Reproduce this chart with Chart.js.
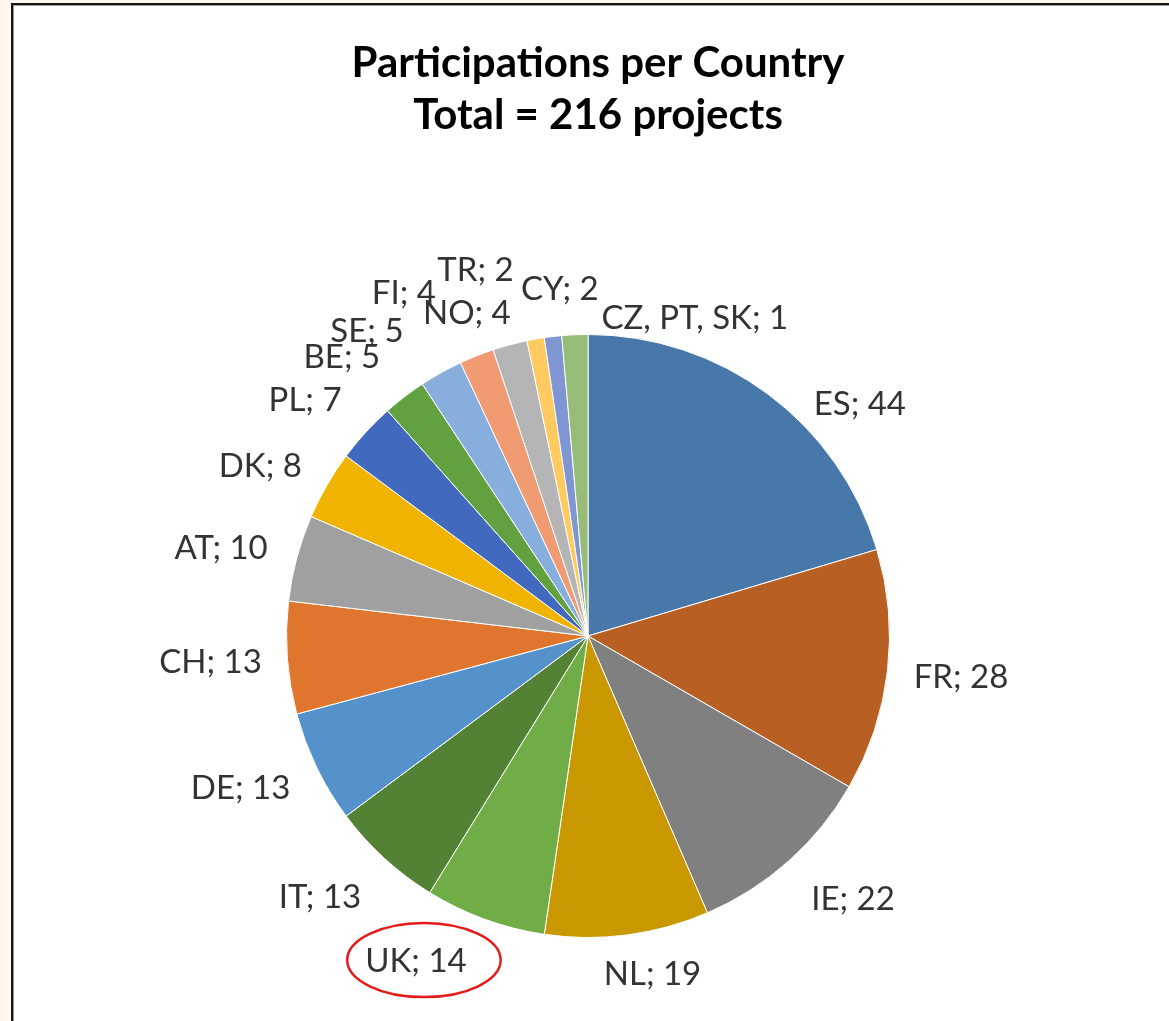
<!DOCTYPE html>
<html>
<head>
<meta charset="utf-8">
<script src="https://cdn.jsdelivr.net/npm/chart.js@4.4.1/dist/chart.umd.min.js"></script>
<style>
  html, body { margin: 0; padding: 0; }
  body { width: 1169px; height: 1021px; background: #fff7f0; position: relative; overflow: hidden; }
  #frame {
    position: absolute; left: 11px; top: 3px; right: 0; bottom: 0;
    background: #fff;
    border-left: 2px solid #151515; border-top: 2px solid #151515;
    box-shadow: inset 1px 1px 0 #9a9a9a;
  }
  #chart { position: absolute; left: 0; top: 0; }
</style>
</head>
<body>
<div id="frame"></div>
<canvas id="chart" width="1169" height="1021"></canvas>
<script>
/* global Chart */

// data, clockwise from 12 o'clock
const countries = ['ES', 'FR', 'IE', 'NL', 'UK', 'IT', 'DE', 'CH', 'AT', 'DK', 'PL', 'BE', 'SE', 'FI', 'NO', 'TR', 'CY', 'CZ, PT, SK'];
// the last slice groups three countries with 1 project each
const participations = [44, 28, 22, 19, 14, 13, 13, 13, 10, 8, 7, 5, 5, 4, 4, 2, 2, 3];
const titleLines = ['Participations per Country', 'Total = 216 projects'];

const sliceColors = [
  '#4877a9', '#b85f23', '#808080', '#c99700', '#70ad47', '#548235',
  '#5592cb', '#e0762e', '#a0a0a0', '#f0b400', '#4169bd', '#62a140',
  '#88aede', '#f19b72', '#b5b5b5', '#ffca60', '#7f96d2', '#97bc78'
];

// hand nudges (px) so labels sit where the original best-fit put them
const labelNudge = [
  [50, 66], [4, -2], [18, -14], [16, -30], [-45, -24], [-17, -13],
  [-13, -10], [-7, -1], [-8, 9], [-6, 16], [-9, 15], [-20, 16],
  [-40, 20], [-47, 3], [-25, 36], [-48, 0], [15, 22], [123, 54]
];

function labelText(i) {
  const perCountry = participations[i] / countries[i].split(', ').length;
  return countries[i] + '; ' + perCountry;
}

const titlePlugin = {
  id: 'twoLineTitle',
  afterDraw(chart) {
    const ctx = chart.ctx;
    ctx.save();
    ctx.font = 'bold 42px Lato';
    ctx.fillStyle = '#000';
    ctx.textAlign = 'center';
    ctx.textBaseline = 'alphabetic';
    ctx.fillText(titleLines[0], 598, 77);
    ctx.fillText(titleLines[1], 598, 129);
    ctx.restore();
  },
};

const labelPlugin = {
  id: 'sliceLabels',
  afterDatasetsDraw(chart) {
    const ctx = chart.ctx;
    const meta = chart.getDatasetMeta(0);
    ctx.save();
    ctx.font = '33px Lato';
    ctx.fillStyle = '#333333';
    ctx.textAlign = 'center';
    ctx.textBaseline = 'middle';
    meta.data.forEach((arc, i) => {
      const p = arc.getProps(['x', 'y', 'startAngle', 'endAngle', 'outerRadius'], true);
      const mid = (p.startAngle + p.endAngle) / 2;
      const r = p.outerRadius + 70;
      const lx = p.x + Math.cos(mid) * r + labelNudge[i][0];
      const ly = p.y + Math.sin(mid) * r + labelNudge[i][1];
      const text = labelText(i);
      ctx.fillText(text, lx, ly);

      // the red ring drawn round the UK label
      if (countries[i] === 'UK') {
        const w = ctx.measureText(text).width;
        ctx.save();
        ctx.strokeStyle = '#e31b1b';
        ctx.lineWidth = 2.5;
        ctx.beginPath();
        ctx.ellipse(lx + 8, ly - 1, w / 2 + 26, 37, 0, 0, Math.PI * 2);
        ctx.stroke();
        ctx.restore();
      }
    });
    ctx.restore();
  },
};

new Chart(document.getElementById('chart'), {
  type: 'pie',
  data: {
    labels: countries,
    datasets: [{
      data: participations,
      backgroundColor: sliceColors,
      borderColor: '#ffffff',
      borderWidth: 1,
    }],
  },
  options: {
    responsive: false,
    animation: false,
    layout: {
      padding: { top: 334, bottom: 83, left: 286, right: 279 },
    },
    plugins: {
      legend: { display: false },
      tooltip: { enabled: false },
      title: { display: false },
    },
  },
  plugins: [labelPlugin, titlePlugin],
});
</script>
</body>
</html>
